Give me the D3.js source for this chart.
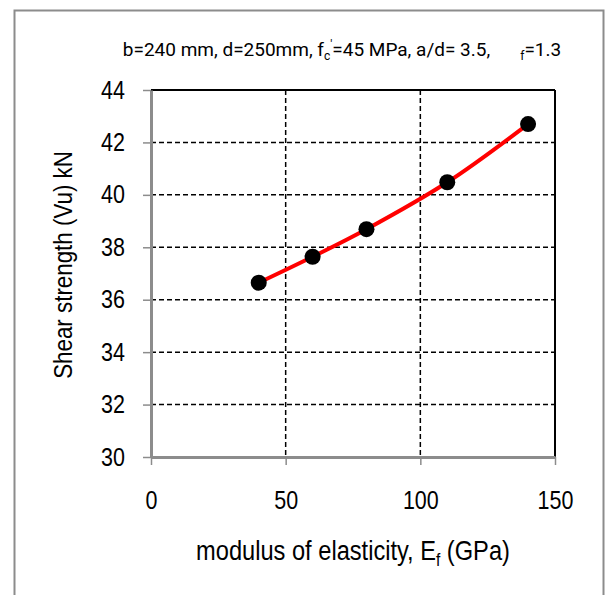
<!DOCTYPE html>
<html>
<head>
<meta charset="utf-8">
<script src="https://cdn.jsdelivr.net/npm/d3@7"></script>
<style>
  body { margin: 0; background: #fff; }
  text { fill: #000; }
  .tick text { font-family: "Liberation Sans", Arial, sans-serif; font-size: 25px; }
</style>
</head>
<body>
<script>
// chart values
var modulus = [40, 60, 80, 110, 140];
var shear = [36.65, 37.64, 38.69, 40.48, 42.70];
var xTicks = [0, 50, 100, 150];
var yTicks = [30, 32, 34, 36, 38, 40, 42, 44];

var svgWidth = 609;
var svgHeight = 595;

var margin = { top: 90, right: 54, bottom: 138, left: 151 };
var chartWidth = svgWidth - margin.left - margin.right;
var chartHeight = svgHeight - margin.top - margin.bottom;

// narrow look for the labels (horizontal squeeze)
var squeeze = 0.86;

var svg = d3.select("body")
  .append("svg")
  .attr("width", svgWidth)
  .attr("height", svgHeight);

// outer frame
svg.append("rect")
  .attr("x", 14.5).attr("y", 10.5)
  .attr("width", 589).attr("height", 600)
  .attr("fill", "none")
  .attr("stroke", "#8c8c8c")
  .attr("stroke-width", 2);

var chartGroup = svg.append("g")
  .attr("transform", `translate(${margin.left}, ${margin.top})`);

var xScale = d3.scaleLinear().domain([0, 150]).range([0, chartWidth]);
var yScale = d3.scaleLinear().domain([30, 44]).range([chartHeight, 0]);

// dashed grid
chartGroup.selectAll(".hgrid").data(yTicks.filter(d => d > 30 && d < 44)).enter()
  .append("line")
  .attr("x1", 0).attr("x2", chartWidth)
  .attr("y1", d => yScale(d)).attr("y2", d => yScale(d))
  .attr("stroke", "#000").attr("stroke-width", 1.5)
  .attr("stroke-dasharray", "5,3");

chartGroup.selectAll(".vgrid").data(xTicks.filter(d => d > 0 && d < 150)).enter()
  .append("line")
  .attr("y1", 0).attr("y2", chartHeight)
  .attr("x1", d => xScale(d)).attr("x2", d => xScale(d))
  .attr("stroke", "#000").attr("stroke-width", 1.5)
  .attr("stroke-dasharray", "5,3");

// top and right borders
chartGroup.append("line")
  .attr("x1", 0).attr("x2", chartWidth).attr("y1", 0).attr("y2", 0)
  .attr("stroke", "#000").attr("stroke-width", 2);
chartGroup.append("line")
  .attr("x1", chartWidth).attr("x2", chartWidth).attr("y1", 0).attr("y2", chartHeight)
  .attr("stroke", "#000").attr("stroke-width", 2);

var bottomAxis = d3.axisBottom(xScale).tickValues(xTicks).tickSize(8).tickSizeOuter(0).tickPadding(26);
var leftAxis = d3.axisLeft(yScale).tickValues(yTicks).tickSize(8).tickSizeOuter(0);

var xg = chartGroup.append("g")
  .attr("transform", `translate(0, ${chartHeight})`)
  .call(bottomAxis);
var yg = chartGroup.append("g")
  .call(leftAxis);

[xg, yg].forEach(function(g) {
  g.select(".domain").attr("stroke", "#8c8c8c").attr("stroke-width", 3);
  g.selectAll(".tick line").attr("stroke", "#8c8c8c").attr("stroke-width", 1.5);
  g.selectAll(".tick text")
    .attr("fill", "#000")
    .attr("transform", `scale(${squeeze},1)`);
});
yg.selectAll(".tick text").attr("x", -26 / squeeze);

// smoothed line
var line = d3.line()
  .x((d, i) => xScale(modulus[i]))
  .y(d => yScale(d))
  .curve(d3.curveCatmullRom.alpha(0.5));

chartGroup.append("path")
  .datum(shear)
  .attr("d", line)
  .attr("fill", "none")
  .attr("stroke", "#ff0000")
  .attr("stroke-width", 4);

chartGroup.selectAll("circle").data(shear).enter()
  .append("circle")
  .attr("cx", (d, i) => xScale(modulus[i]))
  .attr("cy", d => yScale(d))
  .attr("r", 8)
  .attr("fill", "#000");

// title
var title = svg.append("text")
  .attr("x", 342).attr("y", 56)
  .attr("text-anchor", "middle")
  .attr("font-family", "Roboto, 'Liberation Sans', sans-serif")
  .attr("font-size", 19);
title.append("tspan").text("b=240 mm, d=250mm, f");
title.append("tspan").attr("font-size", 12).attr("dy", 4).text("c");
title.append("tspan").attr("font-size", 12).attr("dy", -11).text("'");
title.append("tspan").attr("dy", 7).text("=45 MPa, a/d= 3.5,");
title.append("tspan").attr("font-size", 12).attr("dx", 30).attr("dy", 4).text("f");
title.append("tspan").attr("dy", -4).text("=1.3");

// axis titles
chartGroup.append("text")
  .attr("transform", `rotate(-90) scale(${squeeze},1)`)
  .attr("x", -175 / squeeze)
  .attr("y", -79)
  .attr("text-anchor", "middle")
  .attr("font-family", "'Liberation Sans', Arial, sans-serif")
  .attr("font-size", 26)
  .text("Shear strength (Vu) kN");

var xLabel = chartGroup.append("text")
  .attr("transform", `scale(${squeeze},1)`)
  .attr("x", 202 / squeeze)
  .attr("y", chartHeight + 103)
  .attr("text-anchor", "middle")
  .attr("font-family", "'Liberation Sans', Arial, sans-serif")
  .attr("font-size", 27.5);
xLabel.append("tspan").text("modulus of elasticity, E");
xLabel.append("tspan").attr("font-size", 18).attr("dy", 6).text("f");
xLabel.append("tspan").attr("dy", -6).text(" (GPa)");
</script>
</body>
</html>
